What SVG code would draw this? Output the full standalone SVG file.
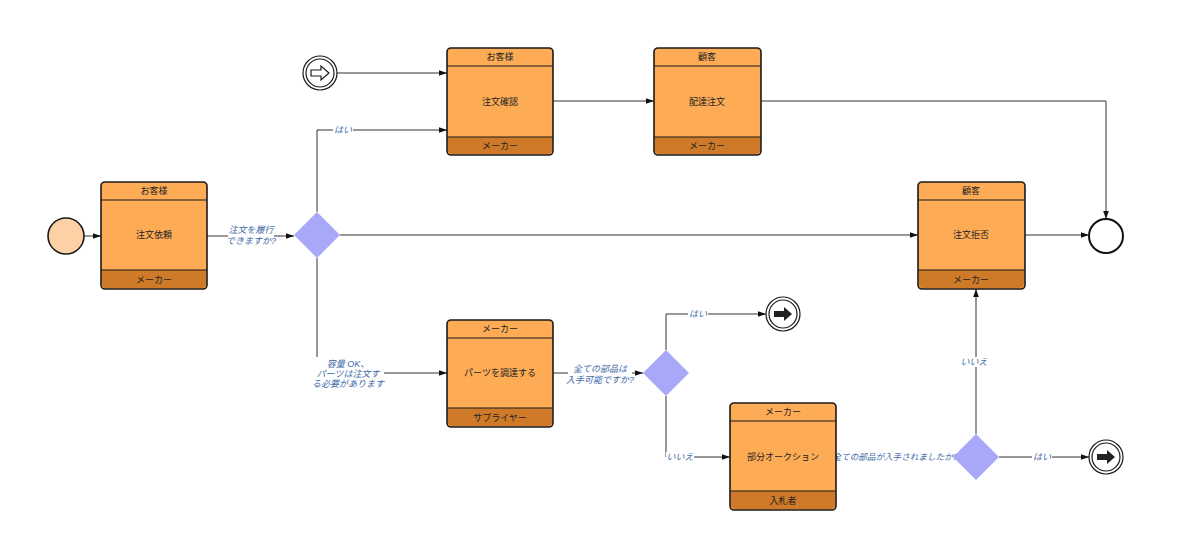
<svg xmlns="http://www.w3.org/2000/svg" width="1200" height="552" viewBox="0 0 1200 552">
<defs>
<marker id="ar" viewBox="0 0 10 10" refX="10" refY="5" markerWidth="8" markerHeight="8" orient="auto" markerUnits="userSpaceOnUse"><path d="M0,1.5 L10,5 L0,8.5 z" fill="#111"/></marker>
<style>
.n{fill:#fdab55;stroke:#1a1a1a;stroke-width:1.6}
.f{fill:#cf7a28}
.l{stroke:#1a1a1a;stroke-width:1.2}
.t{font-family:"Liberation Sans","Noto Sans CJK JP",sans-serif;font-size:9px;fill:#222;text-anchor:middle}
.c{fill:none;stroke:#333;stroke-width:1}
.lb{font-family:"Liberation Sans","Noto Sans CJK JP",sans-serif;font-size:9px;font-style:italic;fill:#3d6aa8;text-anchor:middle}
.bg{fill:#fff}
.g{fill:#a8a8f8}
</style>
</defs>
<rect width="1200" height="552" fill="#fff"/>
<g id="connectors">
<path class="c" d="M84,236 H101" marker-end="url(#ar)"/>
<path class="c" d="M207,236 H294" marker-end="url(#ar)"/>
<path class="c" d="M317,212 V130 H447" marker-end="url(#ar)"/>
<path class="c" d="M337,73 H447" marker-end="url(#ar)"/>
<path class="c" d="M553,101 H654" marker-end="url(#ar)"/>
<path class="c" d="M761,101 H1106 V219" marker-end="url(#ar)"/>
<path class="c" d="M340,235 H918" marker-end="url(#ar)"/>
<path class="c" d="M1025,235 H1089" marker-end="url(#ar)"/>
<path class="c" d="M317,258 V373 H447" marker-end="url(#ar)"/>
<path class="c" d="M553,373 H643" marker-end="url(#ar)"/>
<path class="c" d="M666,350 V314 H766" marker-end="url(#ar)"/>
<path class="c" d="M666,396 V457 H730" marker-end="url(#ar)"/>
<path class="c" d="M836,457 H953" marker-end="url(#ar)"/>
<path class="c" d="M976,434 V289" marker-end="url(#ar)"/>
<path class="c" d="M999,457 H1089" marker-end="url(#ar)"/>
<rect class="bg" x="228" y="224" width="46" height="24"/>
<text class="lb" x="251" y="233">注文を履行</text>
<text class="lb" x="251" y="244">できますか?</text>
<rect class="bg" x="333" y="125" width="20" height="10"/>
<text class="lb" x="343" y="133">はい</text>
<rect class="bg" x="312" y="357" width="72" height="34"/>
<text class="lb" x="348" y="367">容量 OK、</text>
<text class="lb" x="348" y="377">パーツは注文す</text>
<text class="lb" x="348" y="387">る必要があります</text>
<rect class="bg" x="568" y="364" width="64" height="22"/>
<text class="lb" x="600" y="372">全ての部品は</text>
<text class="lb" x="600" y="383">入手可能ですか?</text>
<rect class="bg" x="688" y="309" width="20" height="10"/>
<text class="lb" x="698" y="317">はい</text>
<rect class="bg" x="666" y="452" width="28" height="10"/>
<text class="lb" x="680" y="460">いいえ</text>
<rect class="bg" x="837" y="451" width="117" height="12"/>
<text class="lb" x="895" y="460" style="font-size:8.6px">全ての部品が入手されましたか?</text>
<rect class="bg" x="960" y="357" width="28" height="10"/>
<text class="lb" x="974" y="365">いいえ</text>
<rect class="bg" x="1032" y="452" width="20" height="10"/>
<text class="lb" x="1042" y="460">はい</text>
</g>
<g id="start"><circle cx="66" cy="236" r="18" fill="#fdd1a6" stroke="#1a1a1a" stroke-width="1.6"/></g>
<g id="n1"><rect class="n" x="101" y="182" width="106" height="107" rx="4"/><path class="f" d="M102,270 H206 V284 Q206,288 202,288 H106 Q102,288 102,284 Z"/><path class="l" d="M101,200 H207 M101,270 H207"/>
<text class="t" x="154" y="194">お客様</text><text class="t" x="154" y="238">注文依頼</text><text class="t" x="154" y="283">メーカー</text></g>
<g id="gw1"><path class="g" d="M317,212 L340,235 L317,258 L294,235 Z"/></g>
<g id="ie"><circle cx="320" cy="73" r="17" fill="#fff" stroke="#1a1a1a" stroke-width="1.2"/><circle cx="320" cy="73" r="14" fill="#fff" stroke="#1a1a1a" stroke-width="1.2"/><path d="M311,70 H321 V66 L329,73 L321,80 V76 H311 Z" fill="#fff" stroke="#1a1a1a" stroke-width="1.2"/></g>
<g id="n2"><rect class="n" x="447" y="48" width="106" height="107" rx="4"/><path class="f" d="M448,137 H552 V150 Q552,154 548,154 H452 Q448,154 448,150 Z"/><path class="l" d="M447,66 H553 M447,137 H553"/>
<text class="t" x="500" y="60">お客様</text><text class="t" x="500" y="105">注文確認</text><text class="t" x="500" y="149">メーカー</text></g>
<g id="n3"><rect class="n" x="654" y="48" width="107" height="107" rx="4"/><path class="f" d="M655,137 H760 V150 Q760,154 756,154 H659 Q655,154 655,150 Z"/><path class="l" d="M654,66 H761 M654,137 H761"/>
<text class="t" x="707" y="60">顧客</text><text class="t" x="707" y="105">配達注文</text><text class="t" x="707" y="149">メーカー</text></g>
<g id="n4"><rect class="n" x="918" y="182" width="107" height="107" rx="4"/><path class="f" d="M919,270 H1024 V284 Q1024,288 1020,288 H923 Q919,288 919,284 Z"/><path class="l" d="M918,200 H1025 M918,270 H1025"/>
<text class="t" x="971" y="194">顧客</text><text class="t" x="971" y="238">注文拒否</text><text class="t" x="971" y="283">メーカー</text></g>
<g id="end"><circle cx="1106" cy="236" r="17" fill="#fff" stroke="#111" stroke-width="2"/></g>
<g id="n5"><rect class="n" x="447" y="320" width="106" height="107" rx="4"/><path class="f" d="M448,408 H552 V422 Q552,426 548,426 H452 Q448,426 448,422 Z"/><path class="l" d="M447,338 H553 M447,408 H553"/>
<text class="t" x="500" y="332">メーカー</text><text class="t" x="500" y="376">パーツを調達する</text><text class="t" x="500" y="421">サプライヤー</text></g>
<g id="gw2"><path class="g" d="M666,350 L689,373 L666,396 L643,373 Z"/></g>
<g id="e2"><circle cx="783" cy="314" r="17" fill="#fff" stroke="#1a1a1a" stroke-width="1.2"/><circle cx="783" cy="314" r="14" fill="#fff" stroke="#1a1a1a" stroke-width="1.2"/><path d="M774,311 H784 V307 L792,314 L784,321 V317 H774 Z" fill="#222"/></g>
<g id="n6"><rect class="n" x="730" y="403" width="106" height="107" rx="4"/><path class="f" d="M731,491 H835 V505 Q835,509 831,509 H735 Q731,509 731,505 Z"/><path class="l" d="M730,421 H836 M730,491 H836"/>
<text class="t" x="783" y="415">メーカー</text><text class="t" x="783" y="460">部分オークション</text><text class="t" x="783" y="504">入札者</text></g>
<g id="gw3"><path class="g" d="M976,434 L999,457 L976,480 L953,457 Z"/></g>
<g id="e3"><circle cx="1106" cy="457" r="17" fill="#fff" stroke="#1a1a1a" stroke-width="1.2"/><circle cx="1106" cy="457" r="14" fill="#fff" stroke="#1a1a1a" stroke-width="1.2"/><path d="M1097,454 H1107 V450 L1115,457 L1107,464 V460 H1097 Z" fill="#222"/></g>
</svg>
